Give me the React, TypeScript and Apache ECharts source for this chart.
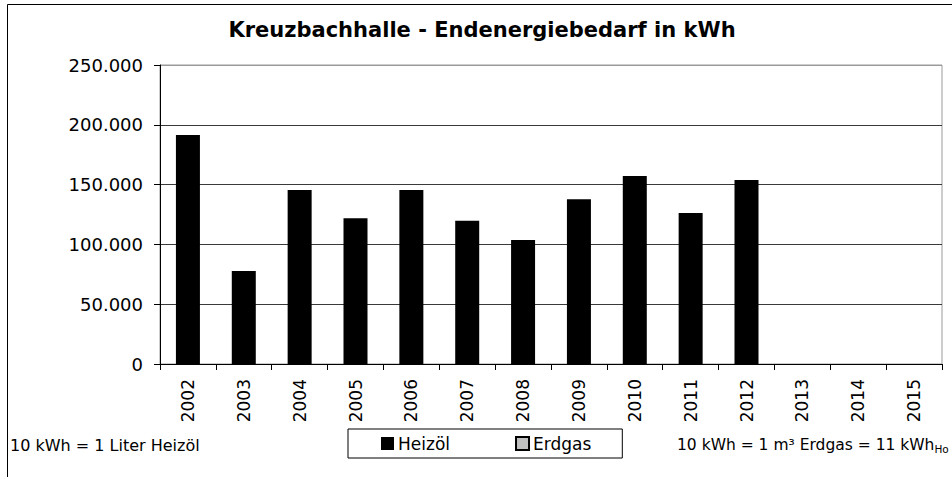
import React, { useEffect, useRef } from "react";
import * as echarts from "echarts";

const TITLE = "Kreuzbachhalle - Endenergiebedarf in kWh";
const years = ["2002","2003","2004","2005","2006","2007","2008","2009","2010","2011","2012","2013","2014","2015"];
const heizoel: (number | null)[] = [191500, 77800, 145500, 121800, 145500, 119800, 103700, 137700, 157200, 126300, 153800, null, null, null];
const erdgas: (number | null)[] = [null, null, null, null, null, null, null, null, null, null, null, null, null, null];
const yMax = 250000;
const yInterval = 50000;
const noteLeft = "10 kWh = 1 Liter Heizöl";
const noteRightMain = "10 kWh = 1 m³ Erdgas = 11 kWh";
const noteRightSub = "Ho";

const FONT = "DejaVu Sans";

function fmt(v: number): string {
  return String(v).replace(/\B(?=(\d{3})+(?!\d))/g, ".");
}

export default function App() {
  const ref = useRef<HTMLDivElement>(null);
  useEffect(() => {
    if (!ref.current) return;
    const chart = echarts.init(ref.current, undefined, { renderer: "svg" });
    chart.setOption({
      animation: false,
      backgroundColor: "#fff",
      textStyle: { fontFamily: FONT },
      grid: {
        left: 160,
        right: 10,
        top: 65,
        bottom: 113,
        show: true,
        borderColor: "#9a9a9a",
        borderWidth: 1,
      },
      legend: {
        left: 348,
        top: 429,
        orient: "horizontal",
        itemWidth: 13,
        itemHeight: 13,
        itemGap: 65,
        padding: [6, 31, 6, 33],
        borderColor: "#000",
        borderWidth: 1,
        icon: "rect",
        textStyle: { fontFamily: FONT, fontSize: 17, color: "#000", padding: [0, 0, 0, -1] },
        data: ["Heizöl", "Erdgas"],
      },
      xAxis: {
        type: "category",
        data: years,
        boundaryGap: true,
        axisLine: { show: true, lineStyle: { color: "#000", width: 1 } },
        axisTick: { show: true, alignWithLabel: false, interval: 0, length: 6, lineStyle: { color: "#000" } },
        axisLabel: {
          interval: 0,
          rotate: 90,
          margin: 15,
          fontFamily: FONT,
          fontSize: 17,
          color: "#000",
        },
        splitLine: { show: false },
      },
      yAxis: {
        type: "value",
        min: 0,
        max: yMax,
        interval: yInterval,
        axisLine: { show: true, lineStyle: { color: "#000", width: 1 } },
        axisTick: { show: true, length: 6, lineStyle: { color: "#000" } },
        axisLabel: {
          margin: 17,
          fontFamily: FONT,
          fontSize: 18,
          color: "#000",
          formatter: (v: number) => fmt(v),
        },
        splitLine: {
          show: true,
          lineStyle: { color: ["#3a3a3a", "#3a3a3a", "#3a3a3a", "#3a3a3a", "#3a3a3a", "#9a9a9a"], width: 1 },
        },
      },
      series: [
        {
          name: "Heizöl",
          type: "bar",
          stack: "total",
          barWidth: 24,
          data: heizoel,
          itemStyle: { color: "#000" },
        },
        {
          name: "Erdgas",
          type: "bar",
          stack: "total",
          barWidth: 24,
          data: erdgas,
          itemStyle: { color: "#c0c0c0", borderColor: "#000", borderWidth: 1 },
        },
      ],
      graphic: [
        {
          type: "rect",
          shape: { x: 7.5, y: 4.5, width: 1000, height: 600 },
          style: { fill: "none", stroke: "#000", lineWidth: 1 },
          silent: true,
          z: 100,
        },
        {
          type: "text",
          x: 482,
          y: 30,
          style: {
            text: TITLE,
            fontFamily: FONT,
            fontWeight: "bold",
            fontSize: 21,
            fill: "#000",
            textAlign: "center",
            textVerticalAlign: "middle",
          },
        },
        {
          type: "text",
          x: 10,
          y: 445,
          style: {
            text: noteLeft,
            fontFamily: FONT,
            fontSize: 16,
            fill: "#000",
            textAlign: "left",
            textVerticalAlign: "middle",
          },
        },
        {
          type: "text",
          x: 677,
          y: 445,
          style: {
            text: "{m|" + noteRightMain + "}{s|" + noteRightSub + "}",
            fontFamily: FONT,
            fontSize: 15.5,
            fill: "#000",
            textAlign: "left",
            textVerticalAlign: "middle",
            rich: {
              m: { fontFamily: FONT, fontSize: 15.5, fill: "#000", color: "#000" },
              s: { fontFamily: FONT, fontSize: 10.5, fill: "#000", color: "#000", padding: [8, 0, 0, 0] },
            },
          },
        },
      ],
    });
    return () => chart.dispose();
  }, []);
  return (
    <div
      ref={ref}
      style={{ position: "fixed", left: 0, top: 0, width: 952, height: 477 }}
    />
  );
}
